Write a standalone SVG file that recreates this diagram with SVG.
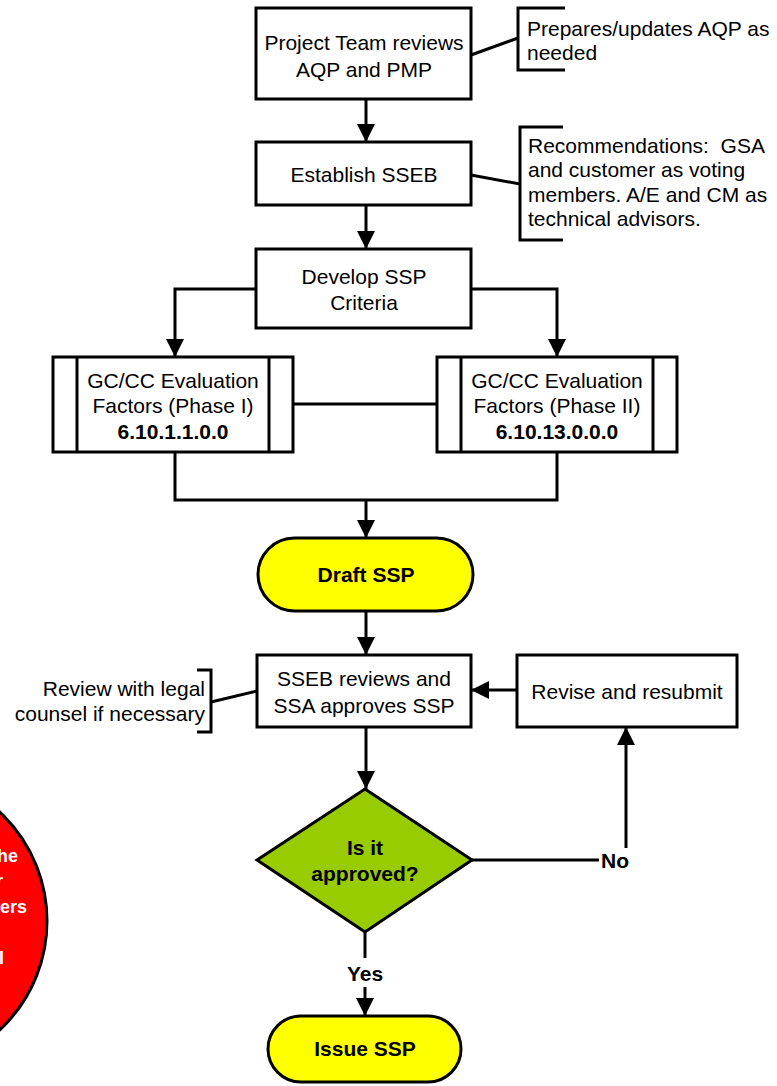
<svg xmlns="http://www.w3.org/2000/svg" width="777" height="1086" viewBox="0 0 777 1086">
<style>
  .box { fill: #ffffff; stroke: #000000; stroke-width: 3; }
  .term { fill: #ffff00; stroke: #000000; stroke-width: 3; }
  .dec { fill: #99cc00; stroke: #000000; stroke-width: 3; }
  .ln { fill: none; stroke: #000000; stroke-width: 3; }
  .arr { fill: none; stroke: #000000; stroke-width: 3; marker-end: url(#ah); }
  .t { font-family: "Liberation Sans", Arial, sans-serif; font-size: 21px; fill: #000000; white-space: pre; }
  .c { text-anchor: middle; }
  .b { font-weight: bold; }
  .bt { font-family: "Liberation Sans", Arial, sans-serif; font-size: 21px; font-weight: bold; fill: #000000; text-anchor: middle; }
  .wt { font-family: "Liberation Sans", Arial, sans-serif; font-size: 18px; font-weight: bold; fill: #ffffff; text-anchor: end; }
</style>
<defs>
  <marker id="ah" viewBox="0 0 18 18" refX="18" refY="9" markerWidth="18" markerHeight="18" markerUnits="userSpaceOnUse" orient="auto">
    <path d="M0,0 L18,9 L0,18 z" fill="#000000"/>
  </marker>
</defs>
<rect width="777" height="1086" fill="#ffffff"/>

<g id="circle-note">
  <circle cx="-102" cy="921" r="149" fill="#ff0000" stroke="#000000" stroke-width="3"/>
  <text class="wt" x="18" y="862">he</text>
  <text class="wt" x="3" y="887">r</text>
  <text class="wt" x="27" y="913">ers</text>
  <text class="wt" x="4" y="964">l</text>
</g>

<g id="connectors">
  <line class="arr" x1="366" y1="99" x2="366" y2="142"/>
  <line class="arr" x1="366" y1="205" x2="366" y2="249"/>
  <polyline class="arr" points="256,289 175,289 175,357"/>
  <polyline class="arr" points="471,289 557,289 557,357"/>
  <line class="ln" x1="293" y1="404" x2="437" y2="404"/>
  <polyline class="ln" points="175,452 175,500 557,500 557,452"/>
  <line class="arr" x1="366" y1="500" x2="366" y2="538"/>
  <line class="arr" x1="366" y1="611" x2="366" y2="655"/>
  <line class="arr" x1="517" y1="690" x2="471" y2="690"/>
  <line class="arr" x1="366" y1="727" x2="366" y2="789"/>
  <line class="ln" x1="472" y1="860" x2="599" y2="860"/>
  <line class="arr" x1="626" y1="848" x2="626" y2="727"/>
  <line class="ln" x1="365" y1="932" x2="365" y2="958"/>
  <line class="arr" x1="365" y1="987" x2="365" y2="1016"/>
  <text class="bt" x="615" y="868">No</text>
  <text class="bt" x="365" y="981">Yes</text>
  <line class="ln" x1="471" y1="55" x2="518" y2="38"/>
  <line class="ln" x1="471" y1="175" x2="520" y2="184"/>
  <line class="ln" x1="211" y1="702" x2="257" y2="691"/>
</g>

<g id="note-prepares">
  <polyline class="ln" points="565,8 518,8 518,70 565,70"/>
  <text class="t" x="527" y="36">Prepares/updates AQP as</text>
  <text class="t" x="527" y="60">needed</text>
</g>

<g id="note-recommendations">
  <polyline class="ln" points="563,127 520,127 520,240 563,240"/>
  <text class="t" x="528" y="153" xml:space="preserve">Recommendations:  GSA</text>
  <text class="t" x="528" y="177">and customer as voting</text>
  <text class="t" x="528" y="202">members. A/E and CM as</text>
  <text class="t" x="528" y="226">technical advisors.</text>
</g>

<g id="note-legal">
  <polyline class="ln" points="197,670 211,670 211,732 197,732"/>
  <text class="t" x="205" y="696" text-anchor="end">Review with legal</text>
  <text class="t" x="205" y="721" text-anchor="end">counsel if necessary</text>
</g>

<g id="project-team">
  <rect class="box" x="256" y="8" width="215" height="91"/>
  <text class="t c" x="364" y="50">Project Team reviews</text>
  <text class="t c" x="364" y="77">AQP and PMP</text>
</g>

<g id="establish-sseb">
  <rect class="box" x="256" y="142" width="215" height="63"/>
  <text class="t c" x="364" y="182">Establish SSEB</text>
</g>

<g id="develop-ssp">
  <rect class="box" x="256" y="249" width="215" height="79"/>
  <text class="t c" x="364" y="284">Develop SSP</text>
  <text class="t c" x="364" y="310">Criteria</text>
</g>

<g id="gc-phase1">
  <rect class="box" x="53" y="357" width="240" height="95"/>
  <line class="ln" x1="77" y1="357" x2="77" y2="452"/>
  <line class="ln" x1="269" y1="357" x2="269" y2="452"/>
  <text class="t c" x="173" y="388">GC/CC Evaluation</text>
  <text class="t c" x="173" y="413">Factors (Phase I)</text>
  <text class="t c b" x="173" y="439">6.10.1.1.0.0</text>
</g>

<g id="gc-phase2">
  <rect class="box" x="437" y="357" width="240" height="95"/>
  <line class="ln" x1="461" y1="357" x2="461" y2="452"/>
  <line class="ln" x1="653" y1="357" x2="653" y2="452"/>
  <text class="t c" x="557" y="388">GC/CC Evaluation</text>
  <text class="t c" x="557" y="413">Factors (Phase II)</text>
  <text class="t c b" x="557" y="439">6.10.13.0.0.0</text>
</g>

<g id="draft-ssp">
  <rect class="term" x="258" y="538" width="215" height="73" rx="36.5" ry="36.5"/>
  <text class="bt" x="366" y="582">Draft SSP</text>
</g>

<g id="sseb-reviews">
  <rect class="box" x="257" y="655" width="214" height="72"/>
  <text class="t c" x="364" y="686">SSEB reviews and</text>
  <text class="t c" x="364" y="713">SSA approves SSP</text>
</g>

<g id="revise">
  <rect class="box" x="517" y="655" width="220" height="72"/>
  <text class="t c" x="627" y="699">Revise and resubmit</text>
</g>

<g id="approved">
  <polygon class="dec" points="365,789 472,860 365,932 257,860"/>
  <text class="bt" x="365" y="855">Is it</text>
  <text class="bt" x="365" y="881">approved?</text>
</g>

<g id="issue-ssp">
  <rect class="term" x="268" y="1016" width="193" height="66" rx="33" ry="33"/>
  <text class="bt" x="365" y="1056">Issue SSP</text>
</g>
</svg>
